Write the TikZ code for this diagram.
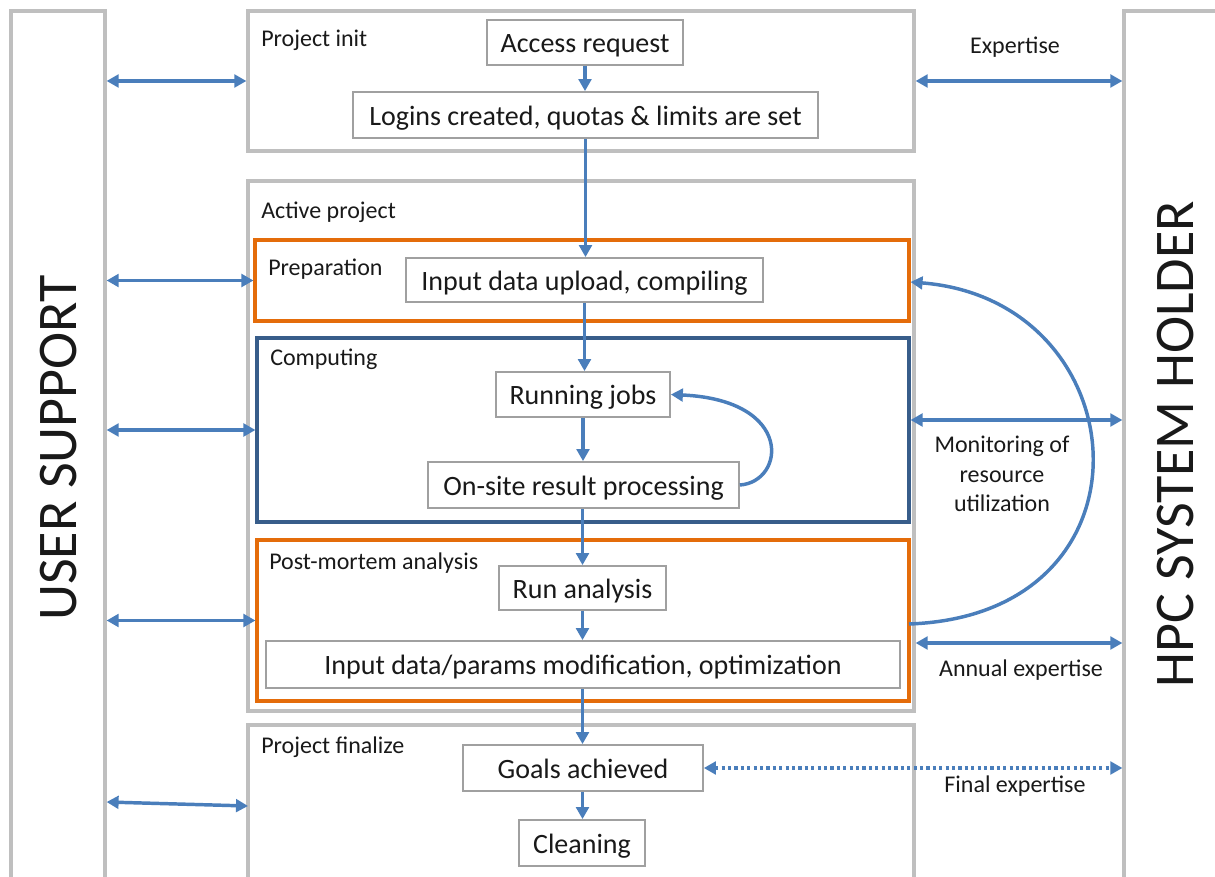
\documentclass[tikz,border=0pt]{standalone}
\usepackage{fontspec}
\setmainfont{Carlito}
\usetikzlibrary{arrows.meta,fit,calc}
\definecolor{flowblue}{HTML}{4A7EBB}
\definecolor{outergray}{HTML}{BFBFBF}
\definecolor{innergray}{HTML}{A0A0A0}
\definecolor{prepor}{HTML}{E46C0A}
\definecolor{compblue}{HTML}{385D8A}
\tikzset{
  outerbox/.style={draw=outergray, line width=2.4pt, inner sep=0pt, fit={#1}},
  phasebox/.style={line width=2.3pt, inner sep=0pt},
  stepbox/.style={draw=innergray, line width=1.3pt, inner sep=0pt, fill=white,
    font=\fontsize{21}{25}\selectfont, text=black!90, text height=16.8pt, text depth=1.7pt},
  lbl/.style={font=\fontsize{18}{22}\selectfont, text=black!90, inner sep=0pt},
  bigtxt/.style={font=\fontsize{42}{50}\selectfont, text=black!90, inner sep=0pt, rotate=90},
  flow/.style={draw=flowblue, line width=2.6pt, -{Triangle[length=9pt,width=9.5pt]}},
  both/.style={draw=flowblue, line width=2.6pt, {Triangle[length=9pt,width=9.5pt]}-{Triangle[length=9pt,width=9.5pt]}},
}
\begin{document}
\begin{tikzpicture}[x=0.75pt,y=-0.75pt]
\useasboundingbox (0,0) rectangle (1215,877);
\clip (0,0) rectangle (1215,877);
% side columns
\node[outerbox={(11,11) (105,900)}] (leftcol) {};
\node[outerbox={(1124,11) (1250,900)}] (rightcol) {};
\node[bigtxt] (us) at (59,448) {USER SUPPORT};
\node[bigtxt] (hpc) at (1176,444) {HPC SYSTEM HOLDER};
% stage boxes
\node[outerbox={(248,11) (914,151)}] (init) {};
\node[outerbox={(248,181) (914,711)}] (active) {};
\node[outerbox={(248,725) (914,900)}] (final) {};
\node[phasebox, draw=prepor, fit={(255,240) (909,321)}] (prep) {};
\node[phasebox, draw=compblue, fit={(257,338) (909,522)}] (comp) {};
\node[phasebox, draw=prepor, fit={(257,540) (909,701)}] (post) {};
% stage labels
\node[lbl, anchor=west] (linit) at (261,40) {Project init};
\node[lbl, anchor=west] (lactive) at (261,212) {Active project};
\node[lbl, anchor=west] (lprep) at (268,269) {Preparation};
\node[lbl, anchor=west] (lcomp) at (270,359) {Computing};
\node[lbl, anchor=west] (lpost) at (269,563) {Post-mortem analysis};
\node[lbl, anchor=west] (lfinal) at (261,747) {Project finalize};
% steps
\node[stepbox, minimum width=147pt, minimum height=33.75pt] (access) at (585,42.5) {Access request};
\node[stepbox, minimum width=348.75pt, minimum height=34.5pt] (logins) at (585.5,115) {Logins created, quotas \& limits are set};
\node[stepbox, minimum width=267.75pt, minimum height=33pt] (upload) at (584.5,280) {Input data upload, compiling};
\node[stepbox, minimum width=130.5pt, minimum height=33.75pt] (running) at (583,394.5) {Running jobs};
\node[stepbox, minimum width=233.25pt, minimum height=34.5pt] (onsite) at (583.5,485) {On-site result processing};
\node[stepbox, minimum width=125.25pt, minimum height=33pt] (runan) at (582.5,588) {Run analysis};
\node[stepbox, minimum width=475.5pt, minimum height=35.25pt] (modif) at (583,664.5) {Input data/params modification, optimization};
\node[stepbox, minimum width=180pt, minimum height=34.5pt] (goals) at (583,768) {Goals achieved};
\node[stepbox, minimum width=94.5pt, minimum height=34.5pt] (clean) at (582,843) {Cleaning};
% flow arrows
\draw[flow] (access.south) -- (access.south |- logins.north);
\draw[flow] (logins.south) -- (logins.south |- upload.north);
\draw[flow] (upload.south) -- (upload.south |- running.north);
\draw[flow] (running.south) -- (running.south |- onsite.north);
\draw[flow] (onsite.south -| runan.south) -- (runan.north);
\draw[flow] (runan.south) -- (runan.south |- modif.north);
\draw[flow] (modif.south -| runan.south) -- (runan.south |- goals.north);
\draw[flow] (goals.south -| runan.south) -- (runan.south |- clean.north);
\draw[flow] (onsite.east) .. controls (785,482) and (795,400) .. (running.east);
% user support arrows
\draw[both] (leftcol.east |- init.west) -- (init.west);
\draw[both] (leftcol.east |- prep.west) -- (prep.west);
\draw[both] (leftcol.east |- comp.west) -- (comp.west);
\draw[both] (leftcol.east |- post.west) -- (post.west);
\coordinate (finL) at (248,806);
\draw[both] (leftcol.east |- 0,802) -- (finL);
% system holder arrows
\draw[both] (active.east |- init.east) -- (rightcol.west |- init.east);
\node[lbl] (lexp) at (1015,47) {Expertise};
\draw[both] (comp.east |- 0,420) -- (rightcol.west |- 0,420);
\node[lbl, align=center] (lmon) at (1002,474) {Monitoring of\\resource\\utilization};
\draw[both] (active.east |- 0,643) -- (rightcol.west |- 0,643);
\node[lbl] (lann) at (1021,670) {Annual expertise};
\draw[both, dash pattern=on 2.4pt off 2.4pt] (goals.east) -- (rightcol.west |- goals.east);
\node[lbl] (lfin) at (1015,786) {Final expertise};
% monitoring loop
\coordinate (postR) at (909,624);
\draw[flow] (postR) .. controls (1165,615) and (1140,300) .. (prep.east |- 0,282);
\end{tikzpicture}
\end{document}
